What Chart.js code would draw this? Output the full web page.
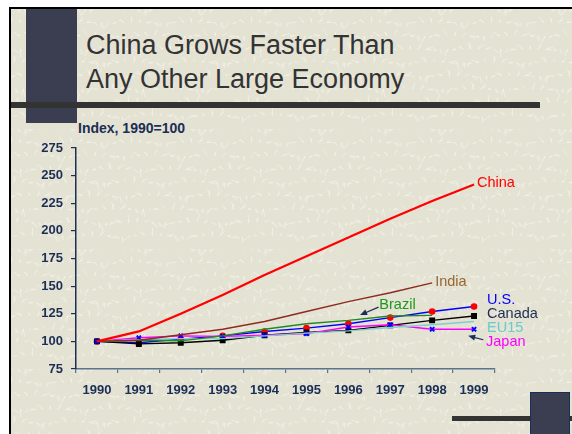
<!DOCTYPE html>
<html>
<head>
<meta charset="utf-8">
<script src="https://cdn.jsdelivr.net/npm/chart.js@4/dist/chart.umd.min.js"></script>
<style>
  html, body { margin: 0; padding: 0; background: #fff; }
  #slide { position: relative; width: 572px; height: 434px; overflow: hidden; }
  #fondo { position: absolute; left: 9px; top: 7px; right: 0; bottom: 0; background-color: #E4E2D3;
           border-left: 2px solid #000; border-top: 2px solid #000; }
  .bloco { position: absolute; background: #3B3E50; }
  .barra { position: absolute; background: #333; }
  #titulo { position: absolute; left: 86px; top: 28px; font: 27px "Liberation Sans", Arial, sans-serif;
            line-height: 34px; color: #333; }
  #indice { position: absolute; left: 78px; top: 120px; font: bold 14px "Liberation Sans", Arial, sans-serif;
            color: #1B2E55; }
  #grafico { position: absolute; left: 0; top: 0; }
</style>
</head>
<body>
<div id="slide">
  <div id="fondo"></div>
  <div class="bloco" style="left:26px; top:9px; width:51px; height:114px;"></div>
  <div class="barra" style="left:11px; top:102px; width:529px; height:6px;"></div>
  <div class="barra" style="left:452px; top:416px; width:120px; height:5px;"></div>
  <div class="bloco" style="left:530px; top:392px; width:38px; height:42px; border:1px solid #1B2E55;"></div>
  <div id="titulo">China Grows Faster Than<br>Any Other Large Economy</div>
  <div id="indice">Index, 1990=100</div>
  <canvas id="grafico" width="572" height="434"></canvas>
</div>
<script>
const anos = ['1990', '1991', '1992', '1993', '1994', '1995', '1996', '1997', '1998', '1999'];
const yTicks = [75, 100, 125, 150, 175, 200, 225, 250, 275];

const china  = [100, 109, 125, 142, 160, 177, 194, 211, 227, 242];
const india  = [100, 101, 106, 111, 118, 127, 136, 144, 153, null];
const brazil = [100, 101, 100.5, 105, 111, 116, 119, 123, 123.5, null];
const usa    = [100, 98.8, 102, 105, 109, 112, 116, 121.5, 127, 131.5];
const canada = [100, 97.7, 98.8, 101, 105.5, 108, 110, 114.5, 119, 123];
const eu15   = [100, 101.5, 102.5, 102.5, 105, 107.5, 109.5, 112.5, 115, 118];
const japan  = [100, 103.3, 105, 104.5, 105.5, 107, 113, 115, 111, 111];

const azul = '#1B2E55';
const fonte = '"Liberation Sans", Arial, sans-serif';

/* textura clara do fundo: traços curtos em posições fixas (sequência de razão áurea) */
(function textura() {
  const t = document.createElement('canvas');
  t.width = 120; t.height = 120;
  const g = t.getContext('2d');
  g.strokeStyle = 'rgba(248,247,238,0.55)';
  g.lineWidth = 1;
  const phi = 0.6180339887;
  for (let k = 0; k < 260; k++) {
    const px = ((k * phi) % 1) * 120;
    const py = ((k * 0.7548776662 * 13.1) % 1) * 120;
    const a = ((k * 0.5698402910) % 1) * Math.PI * 2;
    const len = 3 + (k % 5) * 1.2;
    g.beginPath();
    g.moveTo(px, py);
    g.lineTo(px + Math.cos(a) * len, py + Math.sin(a) * len);
    g.stroke();
  }
  document.getElementById('fondo').style.backgroundImage = 'url(' + t.toDataURL() + ')';
})();

// rótulos das séries: ponto de ancoragem (índice do ano, valor) + deslocamento em px
const rotulos = [
  { texto: 'China',  cor: '#FF0000', i: 9, v: 243,   dx: 3 },
  { texto: 'India',  cor: '#996633', i: 8, v: 153.5, dx: 3 },
  { texto: 'Brazil', cor: '#1A9A1A', i: 6, v: 133,   dx: 31 },
  { texto: 'U.S.',   cor: '#0000FF', i: 9, v: 137.5, dx: 13 },
  { texto: 'Canada', cor: azul,      i: 9, v: 124.8, dx: 13 },
  { texto: 'EU15',   cor: '#66CCCC', i: 9, v: 112.1, dx: 13 },
  { texto: 'Japan',  cor: '#FF00FF', i: 9, v: 99.5,  dx: 12 }
];

// setas: de (i0,v0) até (i1,v1)
const setas = [
  { i0: 6.72, v0: 131, i1: 6.28, v1: 123.8 },
  { i0: 9.22, v0: 101.5, i1: 8.86, v1: 105 }
];

const anotacoes = {
  id: 'anotacoes',
  afterDatasetsDraw(chart) {
    const c = chart.ctx;
    const x = chart.scales.x, y = chart.scales.y;
    c.save();
    c.font = '14.5px ' + fonte;
    c.textBaseline = 'middle';
    c.textAlign = 'left';
    rotulos.forEach(r => {
      c.fillStyle = r.cor;
      c.fillText(r.texto, x.getPixelForValue(r.i) + r.dx, y.getPixelForValue(r.v));
    });
    c.strokeStyle = azul;
    c.fillStyle = azul;
    c.lineWidth = 1.2;
    setas.forEach(s => {
      const x0 = x.getPixelForValue(s.i0), y0 = y.getPixelForValue(s.v0);
      const x1 = x.getPixelForValue(s.i1), y1 = y.getPixelForValue(s.v1);
      const ang = Math.atan2(y1 - y0, x1 - x0);
      c.beginPath();
      c.moveTo(x0, y0);
      c.lineTo(x1 - 4 * Math.cos(ang), y1 - 4 * Math.sin(ang));
      c.stroke();
      c.beginPath();
      c.moveTo(x1, y1);
      c.lineTo(x1 - 7 * Math.cos(ang) + 3 * Math.sin(ang), y1 - 7 * Math.sin(ang) - 3 * Math.cos(ang));
      c.lineTo(x1 - 7 * Math.cos(ang) - 3 * Math.sin(ang), y1 - 7 * Math.sin(ang) + 3 * Math.cos(ang));
      c.closePath();
      c.fill();
    });
    c.restore();
  }
};

function serie(nome, dados, cor, largura, ponto) {
  const d = { label: nome, data: dados, borderColor: cor, borderWidth: largura, tension: 0,
              pointRadius: 0, spanGaps: false };
  if (ponto) Object.assign(d, ponto);
  return d;
}

new Chart(document.getElementById('grafico'), {
  type: 'line',
  data: {
    labels: anos,
    datasets: [
      serie('China', china, '#FF0000', 2.2),
      serie('India', india, '#8E2A1E', 1.4),
      serie('Brazil', brazil, '#1F8A1F', 1.4),
      serie('EU15', eu15, '#7FCFCB', 1.4),
      serie('Japan', japan, '#FF00FF', 1.4,
            { pointStyle: 'crossRot', pointRadius: 3, pointBorderColor: '#0000FF', pointBorderWidth: 2 }),
      serie('Canada', canada, '#000000', 1.4,
            { pointStyle: 'rect', pointRadius: 3.2, pointBackgroundColor: '#000', pointBorderColor: '#000' }),
      serie('U.S.', usa, '#0000FF', 1.4,
            { pointStyle: 'circle', pointRadius: 2.6, pointBackgroundColor: '#FF0000', pointBorderColor: '#FF0000' })
    ]
  },
  options: {
    responsive: false,
    animation: false,
    devicePixelRatio: 1,
    layout: { padding: { left: 36, right: 77, top: 148, bottom: 35 } },
    plugins: { legend: { display: false }, title: { display: false }, tooltip: { enabled: false } },
    scales: {
      x: {
        offset: true,
        grid: { offset: true, drawOnChartArea: false, drawTicks: true, tickLength: 4, color: '#5C7390', lineWidth: 1.2 },
        border: { color: '#5C7390', width: 1.5 },
        ticks: { color: azul, font: { family: fonte, size: 13, weight: 'bold' }, padding: 10, maxRotation: 0 },
        afterFit(s) { s.height = 30; }
      },
      y: {
        min: 75, max: 275,
        afterBuildTicks(s) { s.ticks = yTicks.map(v => ({ value: v })); },
        grid: { drawOnChartArea: false, drawTicks: true, tickLength: 5, color: azul, lineWidth: 1.2 },
        border: { color: azul, width: 1.5 },
        ticks: { color: azul, font: { family: fonte, size: 13, weight: 'bold' }, padding: 8 },
        afterFit(s) { s.width = 40; }
      }
    }
  },
  plugins: [anotacoes]
});
</script>
</body>
</html>
